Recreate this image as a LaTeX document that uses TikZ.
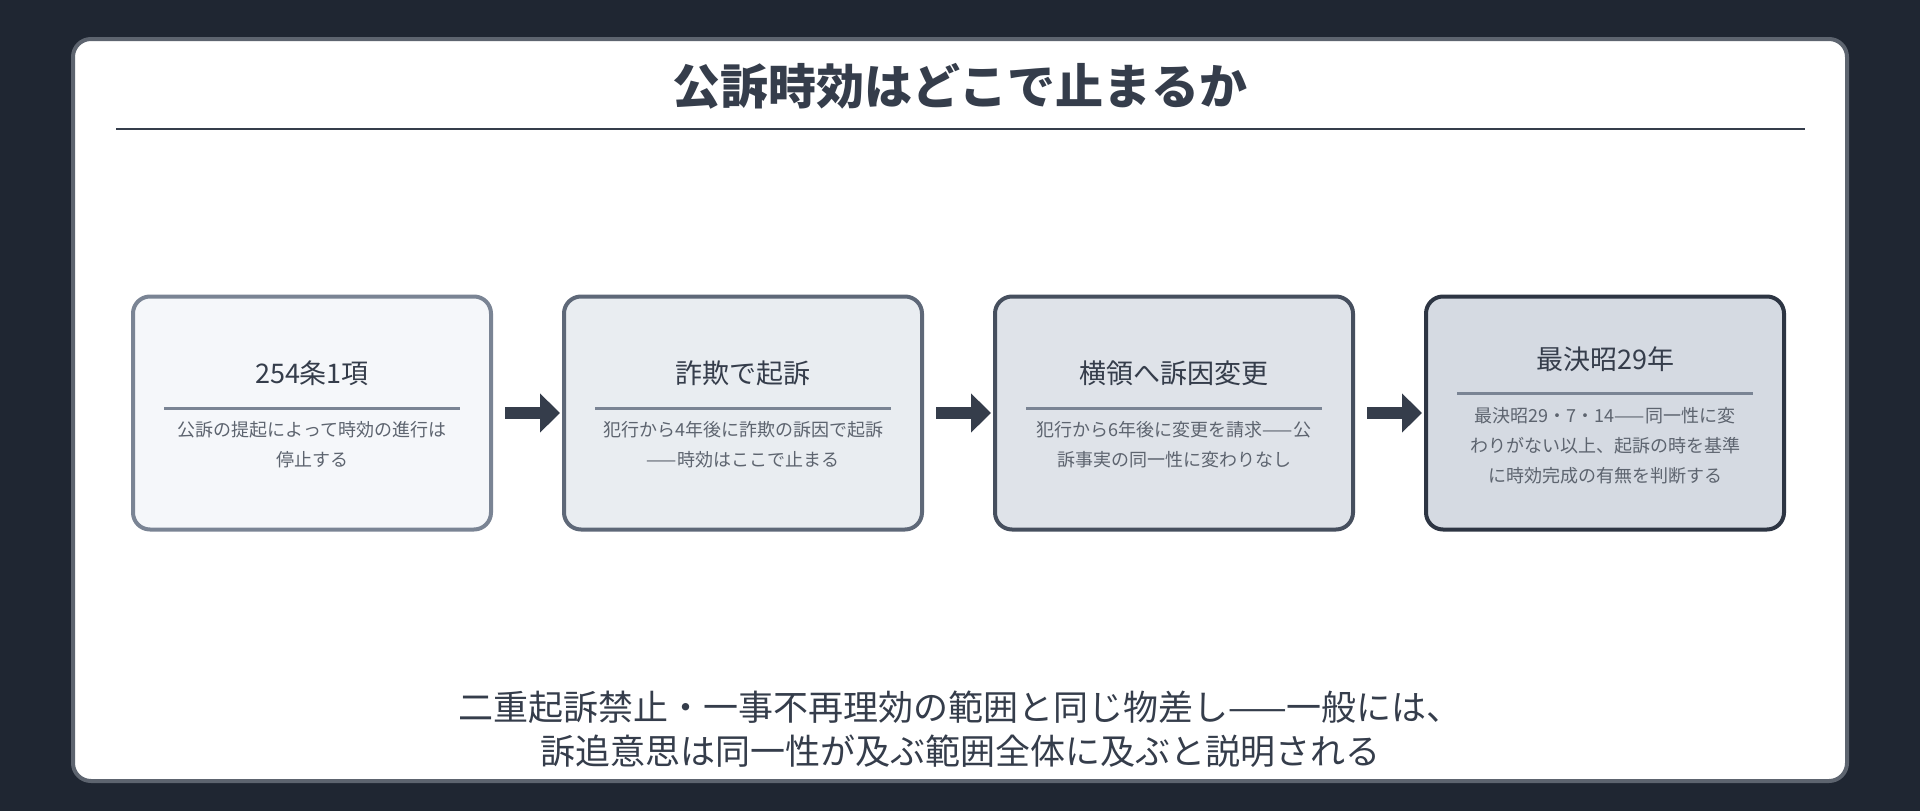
\documentclass[tikz,border=0pt]{standalone}
\usepackage{fontspec}
\setmainfont{Noto Sans CJK JP}
\usetikzlibrary{positioning,arrows.meta}
\definecolor{bgdark}{HTML}{1F2632}
\definecolor{ink}{HTML}{353D4B}
\definecolor{fillA}{HTML}{F5F7FA}
\definecolor{fillB}{HTML}{E9EDF1}
\definecolor{fillC}{HTML}{DFE3E9}
\definecolor{fillD}{HTML}{D5DAE2}
\definecolor{lineA}{HTML}{7A8494}
\definecolor{lineB}{HTML}{5E6878}
\definecolor{lineC}{HTML}{464F5E}
\definecolor{lineD}{HTML}{2D3543}
\tikzset{
  step/.style={draw=#1, line width=4pt, rounded corners=17pt,
    minimum width=358pt, minimum height=233pt},
  head/.style={text=ink, font=\fontsize{27}{32}\selectfont},
  body/.style={text=ink!80, font=\fontsize{18}{30}\selectfont, align=center},
  flow/.style={-{Triangle[length=20pt,width=38pt]}, line width=12pt, draw=ink},
}
\begin{document}
\begin{tikzpicture}[x=1pt,y=-1pt]
  \fill[bgdark] (0,0) rectangle (1920,811);
  \draw[fill=white, draw=ink!80, line width=4pt, rounded corners=18pt] (73,39) rectangle (1847,781);
  \node[text=ink, font=\fontsize{48}{56}\selectfont\bfseries] (title) at (960,86) {公訴時効はどこで止まるか};
  \draw[ink, line width=2pt] (116,129) -- (1805,129);
  % steps
  \foreach \x/\fl/\ln/\nm in {312/fillA/lineA/s1, 743/fillB/lineB/s2, 1174/fillC/lineC/s3, 1605/fillD/lineD/s4} {
    \node[step=\ln, fill=\fl] (\nm) at (\x,413) {};
  }
  \node[head] (h1) at (312,373) {254条1項};
  \node[head] (h2) at (743,373) {詐欺で起訴};
  \node[head] (h3) at (1174,373) {横領へ訴因変更};
  \node[head] (h4) at (1605,359) {最決昭29年};
  \foreach \x/\y in {312/408, 743/408, 1174/408, 1605/393} {
    \draw[lineA, line width=3pt] (\x-148,\y) -- (\x+148,\y);
  }
  \node[body] (b1) at (312,445) {公訴の提起によって時効の進行は\\停止する};
  \node[body] (b2) at (743,445) {犯行から4年後に詐欺の訴因で起訴\\——時効はここで止まる};
  \node[body] (b3) at (1174,445) {犯行から6年後に変更を請求——公\\訴事実の同一性に変わりなし};
  \node[body] (b4) at (1605,446) {最決昭29・7・14——同一性に変\\わりがない以上、起訴の時を基準\\に時効完成の有無を判断する};
  \draw[flow] (s1.east) ++(12pt,0) -- ([xshift=-2pt]s2.west);
  \draw[flow] (s2.east) ++(12pt,0) -- ([xshift=-2pt]s3.west);
  \draw[flow] (s3.east) ++(12pt,0) -- ([xshift=-2pt]s4.west);
  \node[text=ink, font=\fontsize{35}{44}\selectfont, align=center] (note) at (960,729)
    {二重起訴禁止・一事不再理効の範囲と同じ物差し——一般には、\\訴追意思は同一性が及ぶ範囲全体に及ぶと説明される};
\end{tikzpicture}
\end{document}
